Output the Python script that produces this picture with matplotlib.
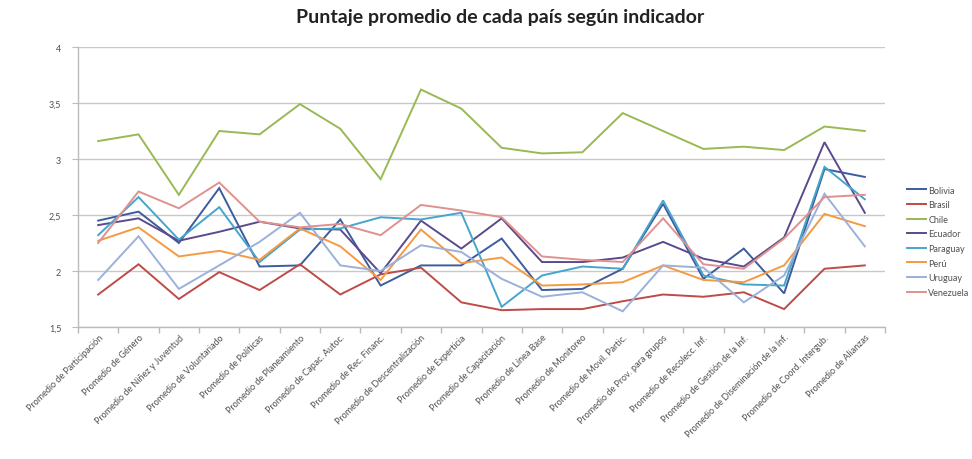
import matplotlib
matplotlib.use("Agg")
import matplotlib.pyplot as plt
from matplotlib.ticker import FuncFormatter

indicadores = [
    "Promedio de Participación", "Promedio de Género", "Promedio de Niñez y Juventud",
    "Promedio de Voluntariado", "Promedio de Políticas", "Promedio de Planeamiento",
    "Promedio de Capac. Autoc.", "Promedio de Rec. Financ.", "Promedio de Descentralización",
    "Promedio de Experticia", "Promedio de Capacitación", "Promedio de Línea Base",
    "Promedio de Monitoreo", "Promedio de Movil. Partic.", "Promedio de Prov. para grupos",
    "Promedio de Recolecc. Inf.", "Promedio de Gestión de la Inf.",
    "Promedio de Diseminación de la Inf.", "Promedio de Coord. Intergub.", "Promedio de Alianzas",
]

bolivia   = [2.45, 2.53, 2.25, 2.74, 2.04, 2.05, 2.46, 1.87, 2.05, 2.05, 2.29, 1.83, 1.84, 2.02, 2.60, 1.93, 2.20, 1.80, 2.91, 2.84]
brasil    = [1.79, 2.06, 1.75, 1.99, 1.83, 2.06, 1.79, 1.97, 2.03, 1.72, 1.65, 1.66, 1.66, 1.73, 1.79, 1.77, 1.81, 1.66, 2.02, 2.05]
chile     = [3.16, 3.22, 2.68, 3.25, 3.22, 3.49, 3.27, 2.82, 3.62, 3.45, 3.10, 3.05, 3.06, 3.41, 3.25, 3.09, 3.11, 3.08, 3.29, 3.25]
ecuador   = [2.41, 2.47, 2.27, 2.35, 2.44, 2.38, 2.37, 1.98, 2.45, 2.20, 2.47, 2.08, 2.08, 2.12, 2.26, 2.11, 2.04, 2.30, 3.15, 2.52]
paraguay  = [2.32, 2.66, 2.28, 2.57, 2.08, 2.37, 2.38, 2.48, 2.46, 2.52, 1.68, 1.96, 2.04, 2.02, 2.63, 1.96, 1.88, 1.87, 2.93, 2.64]
peru      = [2.27, 2.39, 2.13, 2.18, 2.10, 2.38, 2.22, 1.92, 2.37, 2.07, 2.12, 1.87, 1.88, 1.90, 2.05, 1.92, 1.90, 2.05, 2.51, 2.40]
uruguay   = [1.92, 2.31, 1.84, 2.05, 2.26, 2.52, 2.05, 2.00, 2.23, 2.17, 1.93, 1.77, 1.81, 1.64, 2.05, 2.03, 1.72, 1.96, 2.69, 2.22]
venezuela = [2.25, 2.71, 2.56, 2.79, 2.44, 2.39, 2.42, 2.32, 2.59, 2.54, 2.48, 2.13, 2.10, 2.08, 2.47, 2.06, 2.02, 2.29, 2.66, 2.68]

paises = ["Bolivia", "Brasil", "Chile", "Ecuador", "Paraguay", "Perú", "Uruguay", "Venezuela"]
series = [bolivia, brasil, chile, ecuador, paraguay, peru, uruguay, venezuela]
colores = ["#3D5C9E", "#BE4B48", "#98B954", "#5B4A8C", "#46A5CC", "#F59A42", "#9BB0DA", "#E0918F"]

y_ticks = [1.5, 2, 2.5, 3, 3.5, 4]

plt.rcParams["font.family"] = ["Lato", "DejaVu Sans"]

fig = plt.figure(figsize=(9.72, 4.60), dpi=100)
ax = fig.add_axes([78 / 972, 1 - 328 / 460, (885 - 78) / 972, (328 - 48) / 460])

x = list(range(len(indicadores)))
for nombre, vals, col in zip(paises, series, colores):
    ax.plot(x, vals, color=col, lw=1.4, label=nombre, solid_joinstyle="miter")

ax.set_xlim(-0.5, len(indicadores) - 0.5)
ax.set_ylim(1.5, 4)
ax.set_yticks(y_ticks)
ax.yaxis.set_major_formatter(FuncFormatter(lambda v, p: f"{v:g}".replace(".", ",")))
ax.grid(axis="y", color="#C8C8C8", lw=1.0)
ax.set_axisbelow(True)

ax.set_xticks(x)
ax.set_xticklabels(indicadores, rotation=45, ha="right", rotation_mode="anchor",
                   fontsize=6.5, color="#505050")
ax.set_xticks([i - 0.5 for i in range(len(indicadores) + 1)], minor=True)
ax.tick_params(axis="x", which="major", length=0, pad=4)
ax.tick_params(axis="x", which="minor", length=4, color="#BBBBBB", width=1)
ax.tick_params(axis="y", length=4, color="#BBBBBB", labelsize=6.5, labelcolor="#505050", pad=8)

for s in ["top", "right"]:
    ax.spines[s].set_visible(False)
for s in ["left", "bottom"]:
    ax.spines[s].set_color("#BBBBBB")
    ax.spines[s].set_linewidth(1.0)

fig.text(0.515, 0.961, "Puntaje promedio de cada país según indicador",
         ha="center", va="center", fontsize=14, fontweight="bold", color="#222222")

leg = fig.legend(loc="upper left", bbox_to_anchor=(903 / 972, 1 - 183 / 460),
                 frameon=False, fontsize=6.5, handlelength=2.2, handletextpad=0.2,
                 labelspacing=0.62, borderaxespad=0)
for t in leg.get_texts():
    t.set_color("#505050")

fig.savefig("out.png", dpi=100)
